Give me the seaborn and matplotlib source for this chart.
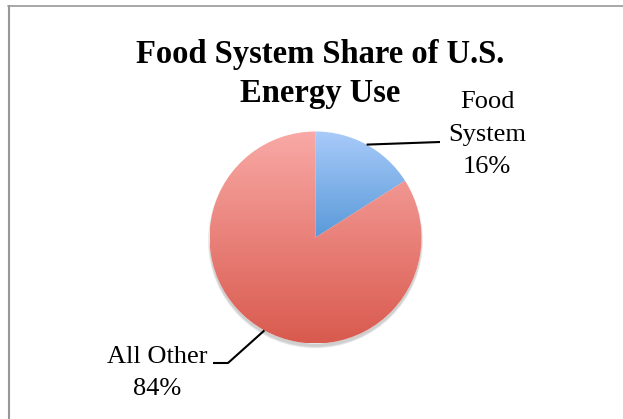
import numpy as np
import matplotlib
matplotlib.use("Agg")
import matplotlib.pyplot as plt
import seaborn as sns
from matplotlib.colors import LinearSegmentedColormap
from matplotlib.lines import Line2D
from matplotlib.patches import Circle

# data
categories = ["Food System", "All Other"]
shares = [16, 84]
title_lines = ["Food System Share of U.S.", "Energy Use"]

# vertical gradient per slice (top, bottom)
slice_colors = [("#a9cbfa", "#5a9ad9"), ("#f9a9a6", "#d95a4e")]

W, H = 623, 419
CX, CY, R = 315.5, 237.5, 106.0  # pie centre / radius in pixels


def px(x, y):
    """pixel position (from top-left) -> data coords of the pie axes"""
    return (x - CX) / R, (CY - y) / R


sns.set_theme(style="white")
plt.rcParams["font.family"] = ["Liberation Serif", "DejaVu Serif"]

fig = plt.figure(figsize=(W / 100, H / 100), dpi=100)
fig.patch.set_facecolor("white")
ax = fig.add_axes([0, 0, 1, 1])

# soft shadow under the bottom of the pie
for i in range(5):
    ax.add_patch(Circle((0, -0.03), 1.0 + 0.004 * i, color="black",
                        alpha=0.04, lw=0, zorder=1))

wedges, _ = ax.pie(shares, startangle=90, counterclock=False, radius=1,
                   center=(0, 0), wedgeprops=dict(linewidth=0))

for w, (top, bot) in zip(wedges, slice_colors):
    w.set_facecolor("white")
    w.set_zorder(2)
    ext = w.get_path().get_extents()
    cmap = LinearSegmentedColormap.from_list("g", [bot, top])
    grad = np.linspace(0, 1, 256).reshape(-1, 1)
    im = ax.imshow(grad, cmap=cmap, origin="lower", aspect="auto",
                   extent=[ext.x0, ext.x1, ext.y0, ext.y1], zorder=3,
                   interpolation="bilinear")
    im.set_clip_path(w)

ax.set_xlim(-CX / R, (W - CX) / R)
ax.set_ylim(-(H - CY) / R, CY / R)
ax.set_aspect("auto")
ax.axis("off")

# leader lines from the middle of each slice edge
mids = [np.deg2rad((w.theta1 + w.theta2) / 2) for w in wedges]
elbows = [[px(440, 142)], [px(228, 363), px(213, 363)]]
for th, pts in zip(mids, elbows):
    xs = [np.cos(th)] + [p[0] for p in pts]
    ys = [np.sin(th)] + [p[1] for p in pts]
    ax.plot(xs, ys, color="black", lw=1.5, zorder=4, solid_capstyle="butt")

# slice labels
labels = [["Food", "System", f"{shares[0]}%"], ["All Other", f"{shares[1]}%"]]
label_pos = [(487, [108, 141, 173]), (157, [363, 395])]
for lines, (x, ys) in zip(labels, label_pos):
    for line, y in zip(lines, ys):
        ax.text(*px(x, y), line, ha="center", va="baseline", fontsize=19,
                color="black")

# title
for line, y in zip(title_lines, [63, 102]):
    ax.text(*px(320, y), line, ha="center", va="baseline", fontsize=23.5,
            fontweight="bold", color="black")

# chart-area border (right and bottom edges are cropped off)
fig.add_artist(Line2D([9 / W, 9 / W], [0, 1 - 6 / H], color="#989898",
                      lw=1.5, transform=fig.transFigure))
fig.add_artist(Line2D([8 / W, 1], [1 - 6.5 / H, 1 - 6.5 / H],
                      color="#989898", lw=1.2, transform=fig.transFigure))

fig.savefig("out.png", dpi=100, facecolor="white")
